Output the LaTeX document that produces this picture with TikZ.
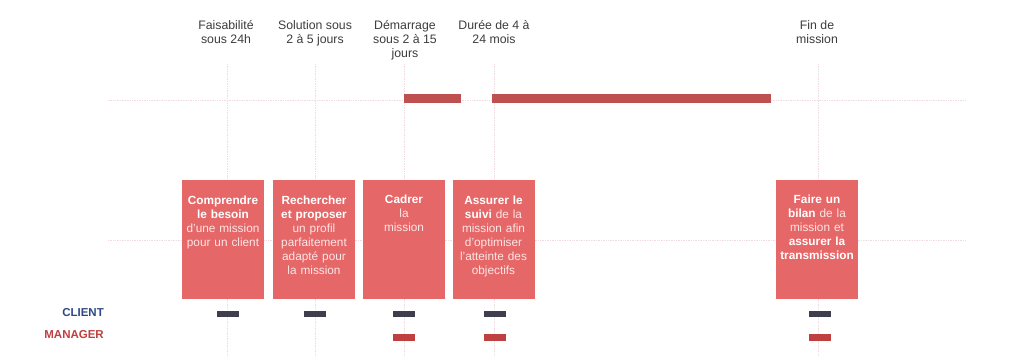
\documentclass[tikz,border=0pt]{standalone}
\usepackage{fontspec}
\setmainfont{Liberation Sans}
\usetikzlibrary{positioning}

\definecolor{boxred}{RGB}{229,103,104}
\definecolor{barred}{RGB}{190,80,80}
\definecolor{mgrred}{RGB}{190,64,64}
\definecolor{clientdark}{RGB}{62,62,78}
\definecolor{clientblue}{RGB}{44,72,134}
\definecolor{guidepink}{RGB}{240,220,224}
\definecolor{headgray}{RGB}{60,60,60}
\definecolor{softwhite}{RGB}{253,230,230}

\newcommand{\boldw}[1]{{\color{white}\bfseries #1}}

\begin{document}
\begin{tikzpicture}[
    x=1pt, y=-1pt,
    guide/.style={guidepink, densely dotted, line width=0.7pt},
    phase/.style={rectangle, fill=boxred, minimum width=82pt, minimum height=119pt, inner sep=0pt},
    phasetext/.style={anchor=north, inner sep=0pt, align=center, text width=80pt, text=softwhite, font=\fontsize{11.8}{14}\selectfont},
    head/.style={anchor=north, inner sep=0pt, align=center, text=headgray, font=\fontsize{12.3}{14}\selectfont},
    periodbar/.style={rectangle, fill=barred, minimum height=9pt, inner sep=0pt},
    slot/.style={rectangle, minimum width=22pt, minimum height=6.5pt, inner sep=0pt},
    role/.style={anchor=east, inner sep=0pt, font=\bfseries\fontsize{11.5}{14}\selectfont}
]
\useasboundingbox (0,0) rectangle (1024,361);

% guide lines
\coordinate (h1w) at (108,100);
\coordinate (h1e) at (965,100);
\coordinate (h2w) at (108,240);
\coordinate (h2e) at (965,240);
\coordinate (v1t) at (227,64);
\coordinate (v1b) at (227,356);
\coordinate (v2t) at (315,64);
\coordinate (v2b) at (315,356);
\coordinate (v3t) at (404,64);
\coordinate (v3b) at (404,356);
\coordinate (v4t) at (494,64);
\coordinate (v4b) at (494,356);
\coordinate (v5t) at (818,64);
\coordinate (v5b) at (818,356);

\draw[guide] (h1w) -- (h1e);
\draw[guide] (h2w) -- (h2e);
\draw[guide] (v1t) -- (v1b);
\draw[guide] (v2t) -- (v2b);
\draw[guide] (v3t) -- (v3b);
\draw[guide] (v4t) -- (v4b);
\draw[guide] (v5t) -- (v5b);

% headers
\node[head] (h1) at (226,20) {Faisabilité\\sous 24h};
\node[head] (h2) at (315,20) {Solution sous\\2 à 5 jours};
\node[head] (h3) at (405,20) {Démarrage\\sous 2 à 15\\jours};
\node[head] (h4) at (494,20) {Durée de 4 à\\24 mois};
\node[head] (h5) at (817,20) {Fin de\\mission};

% periods
\node[periodbar, minimum width=57pt] (start) at (432.5,98.5) {};
\node[periodbar, minimum width=279pt] (run) at (631.5,98.5) {};

% phases
\node[phase] (p1) at (223,239.5) {};
\node[phase] (p2) at (314,239.5) {};
\node[phase] (p3) at (404,239.5) {};
\node[phase] (p4) at (493.5,239.5) {};
\node[phase] (p5) at (817,239.5) {};

\node[phasetext, below=15.5pt of p1.north] (t1) {\boldw{Comprendre\\le besoin}\\d'une mission\\pour un client};
\node[phasetext, below=15.5pt of p2.north] (t2) {\boldw{Rechercher\\et proposer}\\un profil\\parfaitement\\adapté pour\\la mission};
\node[phasetext, below=14.5pt of p3.north] (t3) {\boldw{Cadrer}\\la\\mission};
\node[phasetext, below=15.5pt of p4.north] (t4) {\boldw{Assurer le}\\\boldw{suivi} de la\\mission afin\\d'optimiser\\l'atteinte des\\objectifs};
\node[phasetext, below=14.5pt of p5.north] (t5) {\boldw{Faire un}\\\boldw{bilan} de la\\mission et\\\boldw{assurer la\\transmission}};

% roles
\node[role, text=clientblue] (client) at (104,313) {CLIENT};
\node[role, text=mgrred] (manager) at (104,335) {MANAGER};

\node[slot, fill=clientdark] (c1) at (227.5,314) {};
\node[slot, fill=clientdark] (c2) at (314.5,314) {};
\node[slot, fill=clientdark] (c3) at (404,314) {};
\node[slot, fill=clientdark] (c4) at (495,314) {};
\node[slot, fill=clientdark] (c5) at (819.5,314) {};

\node[slot, fill=mgrred] (m3) at (404,337.5) {};
\node[slot, fill=mgrred] (m4) at (495,337.5) {};
\node[slot, fill=mgrred] (m5) at (819.5,337.5) {};

\end{tikzpicture}
\end{document}
